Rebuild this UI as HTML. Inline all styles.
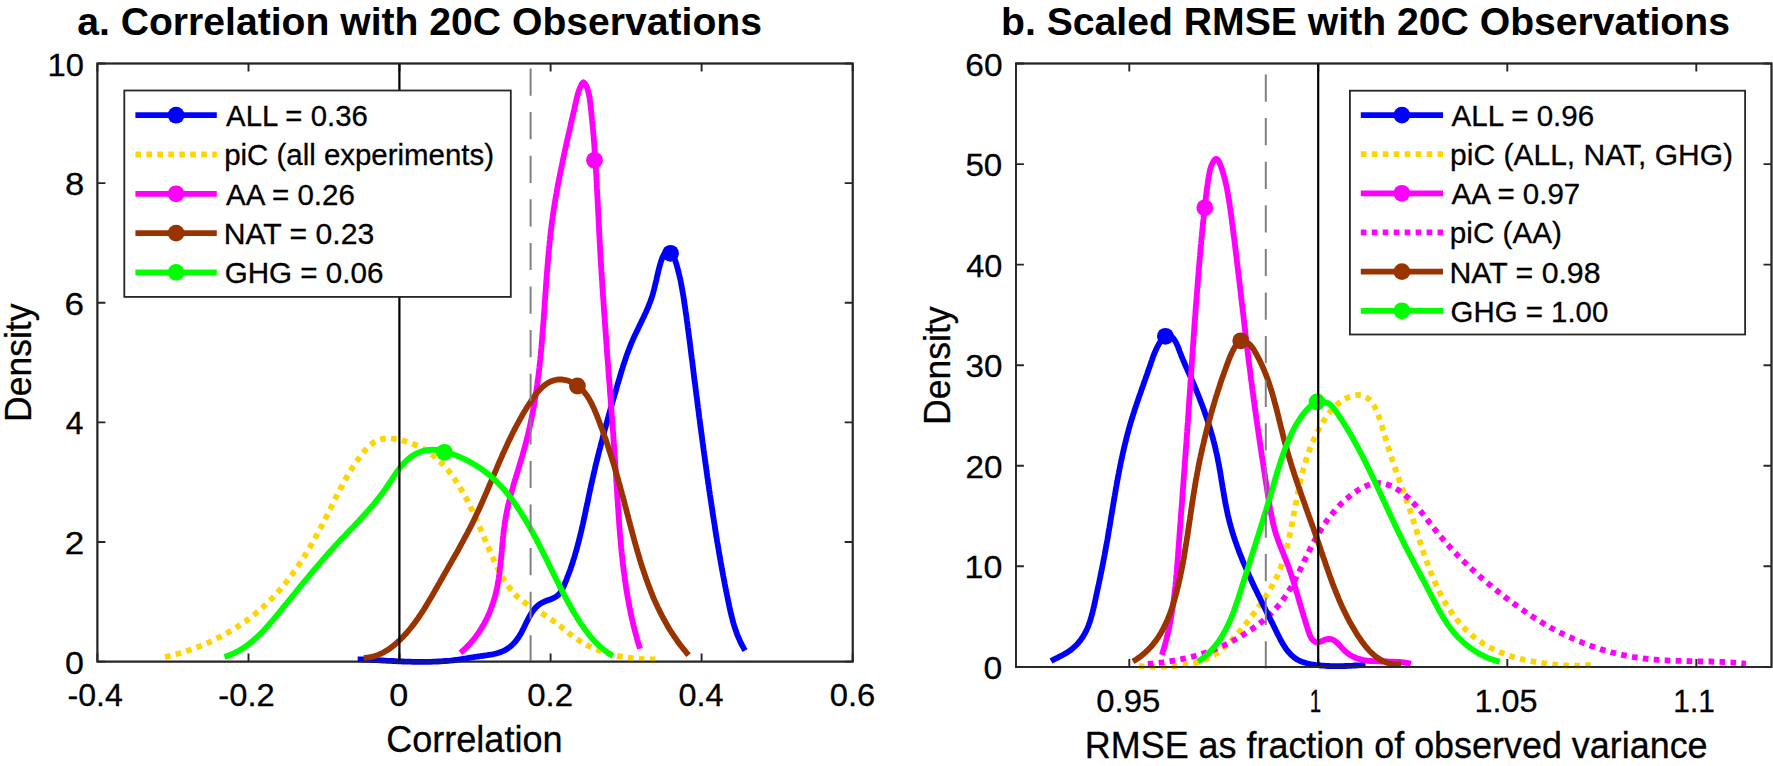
<!DOCTYPE html>
<html><head><meta charset="utf-8"><title>Correlation and Scaled RMSE with 20C Observations</title>
<style>html,body{margin:0;padding:0;background:#fff}svg{display:block}text{font-family:"Liberation Sans",Arial,Helvetica,sans-serif;fill:#000}.tk{font-size:31.5px;fill:#000;stroke:#000;stroke-width:.3px}.lb{font-size:37.0px;fill:#000;stroke:#000;stroke-width:.3px}.tt{font-size:39.3px;font-weight:bold;fill:#000}.lg{font-size:30.2px;fill:#000;stroke:#000;stroke-width:.3px}</style></head><body>
<svg width="1773" height="766" viewBox="0 0 1773 766">
<rect width="1773" height="766" fill="#fff"/>
<rect x="97.4" y="63.5" width="755.3" height="598.1" fill="#fff" stroke="#262626" stroke-width="1.8"/>
<path d="M97.4 661.6 v-8 M97.4 63.5 v8 M248.5 661.6 v-8 M248.5 63.5 v8 M399.5 661.6 v-8 M399.5 63.5 v8 M550.6 661.6 v-8 M550.6 63.5 v8 M701.6 661.6 v-8 M701.6 63.5 v8 M852.7 661.6 v-8 M852.7 63.5 v8 M97.4 661.6 h8 M852.7 661.6 h-8 M97.4 542.0 h8 M852.7 542.0 h-8 M97.4 422.4 h8 M852.7 422.4 h-8 M97.4 302.7 h8 M852.7 302.7 h-8 M97.4 183.1 h8 M852.7 183.1 h-8 M97.4 63.5 h8 M852.7 63.5 h-8 " stroke="#262626" stroke-width="1.9" fill="none"/>
<path d="M165.1 657.1L167.5 656.5L170.0 655.9L172.4 655.3L174.8 654.7L177.2 654.0L179.6 653.3L182.0 652.6L184.4 651.9L186.7 651.1L189.1 650.3L191.5 649.5L193.8 648.6L196.2 647.7L198.5 646.8L200.9 645.9L203.2 644.9L205.5 643.9L207.8 642.9L210.1 641.8L212.4 640.8L214.7 639.7L216.9 638.5L219.2 637.4L221.4 636.2L223.6 635.0L225.8 633.8L228.0 632.5L230.2 631.2L232.4 629.9L234.5 628.6L236.7 627.2L238.8 625.8L240.9 624.4L242.9 623.0L245.0 621.6L247.0 620.1L249.1 618.6L251.1 617.0L253.1 615.5L255.0 613.9L257.0 612.3L258.9 610.7L260.8 609.1L262.7 607.4L264.5 605.7L266.4 604.0L268.2 602.3L270.0 600.5L271.7 598.7L273.5 596.9L275.2 595.1L276.9 593.3L278.5 591.4L280.2 589.5L281.8 587.6L283.4 585.7L285.0 583.8L286.5 581.8L288.1 579.9L289.6 577.9L291.1 575.9L292.6 573.9L294.0 571.8L295.5 569.8L296.9 567.7L298.3 565.6L299.7 563.5L301.1 561.4L302.4 559.3L303.8 557.2L305.1 555.1L306.4 552.9L307.7 550.8L309.0 548.6L310.3 546.4L311.6 544.2L312.8 542.0L314.1 539.8L315.3 537.6L316.5 535.4L317.7 533.2L318.9 531.0L320.1 528.7L321.3 526.5L322.5 524.3L323.6 522.0L324.8 519.8L325.9 517.5L327.1 515.3L328.2 513.0L329.3 510.8L330.5 508.5L331.6 506.2L332.7 504.0L333.8 501.7L334.9 499.5L336.1 497.2L337.2 495.0L338.3 492.8L339.5 490.5L340.6 488.3L341.8 486.1L343.0 483.9L344.2 481.7L345.4 479.5L346.6 477.3L347.9 475.1L349.1 472.9L350.4 470.8L351.8 468.6L353.1 466.5L354.5 464.4L355.9 462.3L357.4 460.2L358.8 458.2L360.4 456.1L361.9 454.1L363.5 452.1L365.2 450.1L366.9 448.3L368.6 446.5L370.5 444.9L372.4 443.4L374.4 442.0L376.4 440.9L378.6 440.0L380.9 439.3L383.2 438.8L385.6 438.5L388.1 438.4L390.6 438.5L393.1 438.7L395.7 439.1L398.3 439.6L400.8 440.1L403.4 440.8L405.9 441.5L408.4 442.2L410.8 443.1L413.2 444.0L415.6 445.0L417.9 446.0L420.2 447.1L422.4 448.3L424.6 449.6L426.7 450.9L428.8 452.3L430.9 453.7L432.8 455.2L434.8 456.8L436.7 458.4L438.5 460.1L440.3 461.8L442.1 463.6L443.8 465.4L445.4 467.2L447.1 469.1L448.7 471.0L450.2 473.0L451.7 475.0L453.2 477.0L454.7 479.1L456.1 481.2L457.4 483.3L458.8 485.4L460.1 487.6L461.4 489.7L462.7 491.9L463.9 494.1L465.1 496.3L466.3 498.5L467.4 500.7L468.6 503.0L469.7 505.2L470.8 507.5L471.9 509.8L472.9 512.0L474.0 514.3L475.0 516.6L476.0 518.9L477.1 521.2L478.1 523.5L479.1 525.8L480.1 528.1L481.0 530.5L482.0 532.8L483.0 535.1L484.0 537.4L485.0 539.7L486.0 542.1L486.9 544.4L487.9 546.7L488.9 549.0L489.9 551.3L491.0 553.6L492.0 555.9L493.0 558.2L494.1 560.5L495.2 562.8L496.2 565.1L497.3 567.4L498.5 569.6L499.6 571.9L500.8 574.1L502.0 576.3L503.3 578.5L504.6 580.6L505.9 582.8L507.3 584.8L508.7 586.9L510.2 588.8L511.7 590.8L513.3 592.6L515.0 594.5L516.8 596.2L518.6 597.9L520.5 599.5L522.5 601.0L524.5 602.5L526.6 603.9L528.8 605.3L530.9 606.7L533.1 608.0L535.3 609.3L537.5 610.6L539.7 612.0L541.9 613.3L544.0 614.6L546.1 616.0L548.2 617.4L550.3 618.8L552.4 620.2L554.4 621.7L556.4 623.2L558.4 624.8L560.4 626.3L562.3 627.9L564.3 629.5L566.2 631.1L568.2 632.7L570.2 634.3L572.2 635.8L574.2 637.3L576.3 638.7L578.3 640.1L580.5 641.4L582.6 642.7L584.8 643.9L587.0 645.1L589.3 646.2L591.5 647.3L593.8 648.3L596.1 649.2L598.4 650.2L600.8 651.0L603.2 651.9L605.6 652.6L608.0 653.4L610.4 654.1L612.8 654.7L615.3 655.3L617.7 655.9L620.2 656.4L622.7 656.8L625.2 657.3L627.7 657.7L630.2 658.0L632.7 658.3L635.2 658.6L637.7 658.8L640.2 659.0L642.8 659.2L645.3 659.3L647.8 659.4L650.3 659.4L652.8 659.4L655.3 659.4L657.8 659.4" fill="none" stroke="#ffd400" stroke-width="5.8" stroke-linejoin="round" stroke-dasharray="5.6 5.37"/>
<path d="M357.7 659.4L360.2 659.4L362.7 659.5L365.2 659.6L367.7 659.7L370.2 659.9L372.7 660.0L375.2 660.1L377.7 660.2L380.2 660.4L382.7 660.5L385.2 660.6L387.7 660.8L390.2 660.9L392.7 661.0L395.3 661.1L397.8 661.3L400.3 661.4L402.8 661.5L405.3 661.6L407.9 661.7L410.4 661.7L412.9 661.8L415.4 661.8L417.9 661.9L420.5 661.9L423.0 661.9L425.5 661.9L428.0 661.9L430.5 661.8L433.0 661.7L435.5 661.6L438.0 661.5L440.5 661.4L443.0 661.2L445.5 661.0L448.0 660.8L450.4 660.6L452.9 660.3L455.4 660.0L457.8 659.7L460.3 659.3L462.8 658.9L465.2 658.5L467.7 658.1L470.1 657.7L472.6 657.3L475.1 656.9L477.6 656.5L480.1 656.2L482.7 655.8L485.2 655.5L487.8 655.1L490.3 654.7L492.8 654.3L495.3 653.7L497.7 653.1L500.1 652.3L502.4 651.4L504.6 650.4L506.8 649.1L508.8 647.7L510.8 646.2L512.6 644.5L514.4 642.7L516.0 640.8L517.5 638.8L518.9 636.7L520.2 634.6L521.5 632.4L522.6 630.1L523.8 627.8L524.9 625.5L526.0 623.2L527.1 620.9L528.3 618.7L529.5 616.5L530.7 614.3L532.1 612.2L533.5 610.2L535.1 608.3L536.8 606.5L538.6 604.9L540.7 603.5L542.9 602.3L545.3 601.2L547.7 600.3L550.2 599.4L552.6 598.5L554.8 597.4L556.9 596.1L558.7 594.6L560.3 592.7L561.6 590.6L562.7 588.4L563.8 586.1L564.8 583.7L565.8 581.4L566.7 579.0L567.6 576.6L568.5 574.3L569.4 571.9L570.3 569.5L571.1 567.1L571.9 564.8L572.7 562.4L573.4 560.0L574.2 557.6L574.9 555.2L575.6 552.8L576.3 550.4L577.0 547.9L577.6 545.5L578.3 543.1L578.9 540.7L579.5 538.2L580.1 535.8L580.7 533.4L581.3 530.9L581.8 528.5L582.4 526.1L583.0 523.6L583.5 521.2L584.0 518.7L584.6 516.3L585.1 513.8L585.6 511.4L586.1 508.9L586.6 506.5L587.2 504.0L587.7 501.6L588.2 499.1L588.7 496.7L589.2 494.2L589.7 491.8L590.3 489.3L590.8 486.9L591.3 484.4L591.9 482.0L592.4 479.5L593.0 477.1L593.5 474.6L594.1 472.2L594.7 469.7L595.2 467.3L595.8 464.8L596.4 462.4L597.0 460.0L597.6 457.5L598.2 455.1L598.8 452.6L599.4 450.2L600.1 447.8L600.7 445.3L601.3 442.9L602.0 440.5L602.6 438.0L603.2 435.6L603.9 433.2L604.5 430.7L605.2 428.3L605.9 425.9L606.5 423.5L607.2 421.0L607.9 418.6L608.5 416.2L609.2 413.8L609.9 411.4L610.6 408.9L611.3 406.5L611.9 404.1L612.6 401.7L613.3 399.3L614.0 396.9L614.7 394.5L615.4 392.1L616.1 389.7L616.8 387.3L617.5 384.8L618.2 382.4L618.9 380.1L619.6 377.7L620.3 375.3L621.0 372.9L621.7 370.5L622.5 368.1L623.2 365.7L624.0 363.3L624.8 361.0L625.6 358.6L626.4 356.2L627.2 353.9L628.1 351.5L629.0 349.2L629.9 346.9L630.8 344.5L631.8 342.2L632.8 339.9L633.8 337.6L634.9 335.3L636.0 333.0L637.1 330.7L638.2 328.4L639.3 326.1L640.4 323.9L641.5 321.6L642.6 319.3L643.7 317.0L644.7 314.7L645.8 312.5L646.8 310.2L647.8 307.9L648.7 305.6L649.6 303.3L650.5 301.0L651.3 298.7L652.1 296.4L652.8 294.0L653.4 291.7L654.1 289.3L654.7 287.0L655.2 284.6L655.8 282.2L656.4 279.7L656.9 277.3L657.5 274.8L658.1 272.3L658.7 269.7L659.4 267.1L660.1 264.5L660.9 261.8L661.8 259.2L662.8 256.7L663.9 254.4L665.3 252.5L666.9 251.1L668.8 250.3L670.6 250.5L672.0 251.8L673.0 254.1L673.9 256.5L674.7 258.9L675.5 261.4L676.3 263.8L677.0 266.2L677.7 268.7L678.3 271.2L678.9 273.6L679.5 276.1L680.1 278.5L680.6 281.0L681.1 283.5L681.5 285.9L682.0 288.4L682.4 290.9L682.9 293.4L683.3 295.8L683.7 298.3L684.1 300.8L684.4 303.3L684.8 305.8L685.2 308.2L685.5 310.7L685.9 313.2L686.3 315.7L686.6 318.2L686.9 320.6L687.3 323.1L687.6 325.6L687.9 328.1L688.3 330.6L688.6 333.1L688.9 335.5L689.2 338.0L689.6 340.5L689.9 343.0L690.2 345.5L690.5 348.0L690.8 350.5L691.1 352.9L691.4 355.4L691.7 357.9L692.1 360.4L692.4 362.9L692.7 365.4L693.0 367.9L693.3 370.3L693.6 372.8L693.9 375.3L694.2 377.8L694.5 380.3L694.9 382.8L695.2 385.3L695.5 387.7L695.8 390.2L696.1 392.7L696.4 395.2L696.8 397.7L697.1 400.2L697.4 402.7L697.7 405.2L698.0 407.6L698.4 410.1L698.7 412.6L699.0 415.1L699.3 417.6L699.7 420.1L700.0 422.6L700.3 425.0L700.6 427.5L701.0 430.0L701.3 432.5L701.6 435.0L702.0 437.5L702.3 440.0L702.6 442.4L703.0 444.9L703.3 447.4L703.6 449.9L704.0 452.4L704.3 454.9L704.7 457.4L705.0 459.8L705.3 462.3L705.7 464.8L706.0 467.3L706.4 469.8L706.7 472.3L707.1 474.8L707.4 477.2L707.8 479.7L708.1 482.2L708.5 484.7L708.9 487.2L709.2 489.6L709.6 492.1L709.9 494.6L710.3 497.1L710.7 499.6L711.1 502.1L711.4 504.5L711.8 507.0L712.2 509.5L712.5 512.0L712.9 514.5L713.3 516.9L713.7 519.4L714.1 521.9L714.5 524.4L714.9 526.9L715.2 529.3L715.6 531.8L716.0 534.3L716.4 536.8L716.8 539.2L717.2 541.7L717.7 544.2L718.1 546.7L718.5 549.1L718.9 551.6L719.3 554.1L719.8 556.6L720.2 559.0L720.6 561.5L721.1 564.0L721.5 566.4L721.9 568.9L722.4 571.4L722.9 573.9L723.3 576.3L723.8 578.8L724.3 581.3L724.7 583.7L725.2 586.2L725.7 588.7L726.2 591.1L726.7 593.6L727.2 596.0L727.7 598.5L728.2 601.0L728.7 603.4L729.2 605.9L729.8 608.4L730.3 610.8L730.9 613.3L731.5 615.7L732.1 618.1L732.7 620.6L733.4 623.0L734.1 625.4L734.9 627.8L735.6 630.1L736.5 632.5L737.3 634.8L738.3 637.1L739.3 639.4L740.3 641.7L741.4 644.0L742.6 646.2L743.8 648.4L745.1 650.6" fill="none" stroke="#0000ff" stroke-width="5.8" stroke-linejoin="round"/>
<path d="M460.5 652.8L462.4 651.1L464.3 649.4L466.2 647.6L467.9 645.8L469.7 644.0L471.3 642.1L473.0 640.2L474.5 638.2L476.1 636.2L477.5 634.2L479.0 632.1L480.3 630.0L481.7 627.9L482.9 625.7L484.2 623.6L485.3 621.3L486.5 619.1L487.5 616.9L488.6 614.6L489.6 612.3L490.5 610.0L491.4 607.6L492.2 605.3L493.0 602.9L493.8 600.5L494.5 598.1L495.2 595.7L495.8 593.3L496.3 590.9L496.9 588.4L497.4 586.0L497.8 583.5L498.3 581.1L498.7 578.6L499.0 576.1L499.4 573.6L499.7 571.2L500.0 568.7L500.3 566.2L500.6 563.7L500.8 561.2L501.1 558.7L501.3 556.2L501.5 553.6L501.8 551.1L502.0 548.6L502.2 546.1L502.4 543.6L502.7 541.1L502.9 538.6L503.2 536.1L503.4 533.6L503.7 531.1L504.0 528.6L504.4 526.1L504.7 523.6L505.1 521.2L505.5 518.7L505.9 516.2L506.4 513.8L506.9 511.3L507.4 508.9L507.9 506.4L508.5 504.0L509.1 501.6L509.7 499.1L510.3 496.7L510.9 494.3L511.6 491.9L512.3 489.5L512.9 487.1L513.6 484.7L514.3 482.3L515.0 479.9L515.8 477.5L516.5 475.1L517.2 472.7L517.9 470.3L518.7 467.9L519.4 465.5L520.1 463.1L520.8 460.7L521.5 458.3L522.3 455.8L523.0 453.4L523.6 451.0L524.3 448.6L525.0 446.2L525.6 443.8L526.3 441.4L526.9 438.9L527.5 436.5L528.1 434.1L528.6 431.6L529.2 429.2L529.8 426.8L530.3 424.3L530.8 421.9L531.3 419.4L531.8 417.0L532.3 414.5L532.8 412.1L533.2 409.6L533.7 407.1L534.1 404.7L534.5 402.2L534.9 399.7L535.3 397.3L535.7 394.8L536.1 392.3L536.5 389.8L536.8 387.4L537.2 384.9L537.5 382.4L537.8 379.9L538.2 377.4L538.5 375.0L538.8 372.5L539.1 370.0L539.4 367.5L539.6 365.0L539.9 362.5L540.2 360.0L540.4 357.5L540.7 355.0L540.9 352.5L541.1 350.0L541.4 347.5L541.6 345.1L541.8 342.6L542.0 340.1L542.2 337.6L542.4 335.1L542.6 332.6L542.8 330.1L543.0 327.6L543.2 325.1L543.4 322.6L543.6 320.1L543.8 317.6L543.9 315.1L544.1 312.5L544.3 310.0L544.5 307.5L544.6 305.0L544.8 302.5L545.0 300.0L545.2 297.5L545.3 295.0L545.5 292.5L545.7 290.0L545.9 287.5L546.0 285.0L546.2 282.5L546.4 280.0L546.6 277.5L546.8 275.0L547.0 272.5L547.2 270.0L547.4 267.5L547.6 265.0L547.8 262.5L548.0 260.0L548.2 257.5L548.4 255.0L548.6 252.5L548.9 250.1L549.1 247.6L549.4 245.1L549.6 242.6L549.9 240.1L550.1 237.6L550.4 235.1L550.7 232.6L551.0 230.1L551.3 227.7L551.6 225.2L551.9 222.7L552.2 220.2L552.6 217.7L552.9 215.3L553.3 212.8L553.6 210.3L554.0 207.8L554.4 205.4L554.8 202.9L555.2 200.4L555.6 198.0L556.0 195.5L556.5 193.0L556.9 190.6L557.3 188.1L557.8 185.6L558.3 183.2L558.7 180.7L559.2 178.3L559.7 175.8L560.2 173.3L560.7 170.9L561.2 168.4L561.7 166.0L562.2 163.5L562.7 161.1L563.2 158.6L563.7 156.2L564.3 153.7L564.8 151.2L565.3 148.8L565.9 146.3L566.4 143.9L566.9 141.4L567.5 139.0L568.0 136.5L568.6 134.1L569.2 131.6L569.7 129.2L570.3 126.7L570.8 124.3L571.4 121.8L571.9 119.4L572.5 116.9L573.1 114.5L573.6 112.0L574.2 109.6L574.7 107.1L575.3 104.6L575.9 102.2L576.4 99.7L577.0 97.3L577.6 94.9L578.3 92.5L579.1 90.1L580.0 87.8L581.0 85.6L582.1 83.4L583.4 82.3L584.8 83.3L586.1 85.5L587.2 88.1L588.0 90.7L588.7 93.3L589.2 95.9L589.7 98.4L590.0 100.9L590.3 103.3L590.6 105.8L590.9 108.3L591.1 110.7L591.4 113.2L591.6 115.7L591.9 118.2L592.1 120.6L592.4 123.1L592.6 125.6L592.8 128.1L593.1 130.6L593.3 133.0L593.5 135.5L593.7 138.0L593.9 140.5L594.1 143.0L594.3 145.5L594.5 148.0L594.6 150.5L594.8 153.0L595.0 155.4L595.2 157.9L595.3 160.4L595.5 162.9L595.6 165.4L595.8 167.9L596.0 170.4L596.1 172.9L596.3 175.4L596.4 177.9L596.5 180.4L596.7 182.9L596.8 185.4L596.9 187.9L597.1 190.4L597.2 192.9L597.3 195.5L597.5 198.0L597.6 200.5L597.7 203.0L597.9 205.5L598.0 208.0L598.1 210.5L598.2 213.0L598.4 215.5L598.5 218.0L598.6 220.5L598.7 223.0L598.9 225.5L599.0 228.0L599.1 230.5L599.2 233.1L599.4 235.6L599.5 238.1L599.6 240.6L599.8 243.1L599.9 245.6L600.1 248.1L600.2 250.6L600.3 253.1L600.5 255.6L600.6 258.1L600.8 260.6L600.9 263.1L601.1 265.6L601.2 268.1L601.4 270.6L601.5 273.1L601.7 275.6L601.9 278.1L602.0 280.6L602.2 283.1L602.3 285.6L602.5 288.1L602.7 290.6L602.8 293.1L603.0 295.6L603.2 298.1L603.4 300.6L603.5 303.1L603.7 305.6L603.9 308.1L604.0 310.6L604.2 313.1L604.4 315.6L604.6 318.1L604.8 320.6L604.9 323.1L605.1 325.6L605.3 328.1L605.5 330.6L605.7 333.1L605.8 335.6L606.0 338.1L606.2 340.6L606.4 343.1L606.6 345.6L606.8 348.1L606.9 350.6L607.1 353.1L607.3 355.6L607.5 358.1L607.7 360.6L607.9 363.0L608.1 365.5L608.3 368.0L608.4 370.5L608.6 373.0L608.8 375.5L609.0 378.0L609.2 380.5L609.4 383.0L609.6 385.5L609.8 388.0L609.9 390.5L610.1 393.0L610.3 395.5L610.5 398.0L610.7 400.5L610.9 403.0L611.1 405.5L611.3 408.0L611.4 410.5L611.6 413.0L611.8 415.5L612.0 418.0L612.2 420.5L612.4 423.0L612.5 425.5L612.7 428.0L612.9 430.5L613.1 433.0L613.3 435.5L613.4 438.0L613.6 440.5L613.8 443.0L614.0 445.5L614.1 448.0L614.3 450.5L614.5 453.0L614.7 455.5L614.8 458.0L615.0 460.5L615.2 463.0L615.3 465.5L615.5 468.0L615.7 470.5L615.8 473.0L616.0 475.5L616.2 478.0L616.3 480.5L616.5 483.0L616.6 485.5L616.8 488.0L617.0 490.5L617.1 493.0L617.3 495.5L617.4 498.0L617.6 500.5L617.8 503.0L617.9 505.5L618.1 508.0L618.3 510.5L618.4 513.0L618.6 515.5L618.8 518.0L619.0 520.5L619.1 523.0L619.3 525.5L619.5 528.0L619.7 530.5L619.9 533.0L620.1 535.5L620.3 538.0L620.6 540.5L620.8 543.0L621.0 545.5L621.2 548.0L621.5 550.5L621.7 553.0L622.0 555.4L622.3 557.9L622.5 560.4L622.8 562.9L623.1 565.4L623.4 567.9L623.7 570.4L624.0 572.8L624.4 575.3L624.7 577.8L625.0 580.3L625.4 582.7L625.8 585.2L626.1 587.7L626.5 590.2L626.9 592.6L627.3 595.1L627.8 597.6L628.2 600.0L628.7 602.5L629.1 604.9L629.6 607.4L630.1 609.9L630.6 612.3L631.1 614.8L631.6 617.2L632.2 619.7L632.8 622.1L633.3 624.6L633.9 627.0L634.5 629.4L635.2 631.9L635.8 634.3L636.5 636.7L637.1 639.2L637.8 641.6L638.5 644.0L639.3 646.4L640.0 648.8" fill="none" stroke="#ff00ff" stroke-width="5.8" stroke-linejoin="round"/>
<path d="M363.7 657.8L366.3 657.7L368.9 657.4L371.5 656.9L374.0 656.3L376.4 655.6L378.7 654.7L381.0 653.7L383.3 652.5L385.4 651.3L387.6 650.0L389.7 648.6L391.7 647.1L393.7 645.5L395.6 643.9L397.5 642.2L399.3 640.5L401.1 638.7L402.9 636.9L404.6 635.1L406.3 633.2L407.9 631.4L409.5 629.5L411.1 627.5L412.6 625.6L414.2 623.6L415.6 621.6L417.1 619.6L418.5 617.5L419.9 615.5L421.3 613.4L422.7 611.3L424.0 609.2L425.3 607.1L426.6 604.9L427.9 602.8L429.2 600.6L430.5 598.5L431.8 596.3L433.0 594.1L434.3 591.9L435.5 589.7L436.8 587.5L438.0 585.3L439.3 583.2L440.5 581.0L441.8 578.8L443.0 576.6L444.3 574.4L445.5 572.2L446.8 570.0L448.0 567.8L449.3 565.6L450.5 563.4L451.8 561.2L453.0 559.0L454.3 556.9L455.5 554.7L456.8 552.5L458.0 550.3L459.2 548.1L460.4 545.8L461.6 543.6L462.9 541.4L464.0 539.2L465.2 537.0L466.4 534.8L467.6 532.6L468.7 530.3L469.9 528.1L471.0 525.9L472.2 523.6L473.3 521.4L474.4 519.1L475.4 516.9L476.5 514.6L477.6 512.3L478.6 510.1L479.7 507.8L480.7 505.5L481.7 503.3L482.7 501.0L483.7 498.7L484.7 496.4L485.7 494.1L486.7 491.8L487.7 489.5L488.7 487.2L489.6 484.9L490.6 482.6L491.6 480.3L492.6 478.0L493.5 475.7L494.5 473.4L495.5 471.1L496.5 468.8L497.4 466.5L498.4 464.2L499.4 461.9L500.4 459.6L501.4 457.3L502.4 455.0L503.4 452.7L504.5 450.5L505.5 448.2L506.6 445.9L507.6 443.6L508.7 441.3L509.8 439.1L510.9 436.8L512.0 434.5L513.1 432.3L514.2 430.0L515.4 427.8L516.6 425.5L517.8 423.3L519.0 421.1L520.2 418.9L521.5 416.6L522.7 414.4L524.0 412.2L525.4 410.0L526.7 407.8L528.1 405.7L529.5 403.5L530.9 401.3L532.3 399.2L533.8 397.1L535.3 395.0L536.9 393.0L538.5 391.0L540.2 389.2L542.0 387.5L543.8 385.8L545.7 384.4L547.7 383.1L549.8 381.9L552.0 381.0L554.3 380.3L556.7 379.7L559.1 379.5L561.6 379.5L564.1 379.8L566.6 380.3L569.0 381.1L571.4 382.1L573.7 383.3L575.8 384.6L577.9 386.1L579.8 387.7L581.7 389.4L583.4 391.2L585.0 393.1L586.5 395.0L587.9 397.1L589.2 399.2L590.4 401.4L591.6 403.6L592.7 405.9L593.8 408.2L594.8 410.6L595.8 412.9L596.8 415.3L597.7 417.7L598.6 420.1L599.5 422.5L600.4 424.9L601.3 427.2L602.2 429.6L603.1 432.0L603.9 434.4L604.7 436.7L605.6 439.1L606.4 441.5L607.2 443.9L608.0 446.2L608.7 448.6L609.5 451.0L610.3 453.4L611.0 455.7L611.8 458.1L612.5 460.5L613.3 462.9L614.0 465.3L614.7 467.6L615.4 470.0L616.1 472.4L616.8 474.8L617.5 477.2L618.2 479.6L618.8 482.0L619.5 484.4L620.2 486.8L620.8 489.2L621.5 491.6L622.1 494.0L622.8 496.5L623.4 498.9L624.1 501.3L624.7 503.7L625.3 506.2L626.0 508.6L626.6 511.0L627.2 513.5L627.9 515.9L628.5 518.4L629.1 520.8L629.8 523.3L630.4 525.7L631.1 528.1L631.7 530.6L632.4 533.0L633.0 535.5L633.7 537.9L634.3 540.3L635.0 542.8L635.7 545.2L636.4 547.7L637.1 550.1L637.8 552.5L638.5 554.9L639.2 557.3L639.9 559.8L640.7 562.2L641.4 564.6L642.2 567.0L643.0 569.4L643.8 571.8L644.6 574.1L645.4 576.5L646.2 578.9L647.1 581.2L647.9 583.6L648.8 585.9L649.7 588.3L650.6 590.6L651.5 592.9L652.5 595.3L653.4 597.6L654.4 599.9L655.4 602.1L656.5 604.4L657.5 606.7L658.6 608.9L659.7 611.2L660.8 613.4L661.9 615.6L663.1 617.8L664.3 620.0L665.5 622.2L666.7 624.4L667.9 626.5L669.2 628.7L670.5 630.8L671.9 632.9L673.3 635.0L674.6 637.1L676.1 639.1L677.5 641.2L679.0 643.2L680.5 645.3L682.1 647.3L683.6 649.2L685.3 651.2L686.9 653.2L688.6 655.1" fill="none" stroke="#993300" stroke-width="5.8" stroke-linejoin="round"/>
<path d="M224.5 657.0L227.0 656.1L229.5 655.1L231.9 654.1L234.2 653.1L236.5 651.9L238.7 650.7L240.9 649.4L243.0 648.1L245.1 646.7L247.1 645.3L249.1 643.8L251.0 642.3L252.9 640.7L254.8 639.0L256.6 637.4L258.5 635.7L260.2 634.0L262.0 632.2L263.7 630.4L265.4 628.6L267.1 626.7L268.8 624.8L270.4 622.9L272.1 621.0L273.7 619.1L275.3 617.2L276.9 615.2L278.5 613.3L280.1 611.3L281.7 609.4L283.3 607.4L284.9 605.4L286.5 603.5L288.1 601.5L289.7 599.5L291.3 597.6L292.9 595.6L294.4 593.7L296.0 591.7L297.6 589.7L299.2 587.8L300.8 585.8L302.4 583.9L304.0 581.9L305.7 580.0L307.3 578.0L308.9 576.1L310.5 574.2L312.1 572.2L313.7 570.3L315.4 568.4L317.0 566.5L318.6 564.6L320.3 562.7L321.9 560.8L323.5 558.9L325.2 557.0L326.9 555.1L328.5 553.2L330.2 551.3L331.9 549.5L333.5 547.6L335.2 545.8L336.9 544.0L338.6 542.1L340.3 540.3L342.0 538.5L343.8 536.7L345.5 534.9L347.2 533.1L348.9 531.3L350.6 529.5L352.4 527.7L354.1 525.9L355.8 524.0L357.5 522.2L359.2 520.4L360.9 518.6L362.6 516.7L364.3 514.9L366.0 513.0L367.7 511.2L369.3 509.3L371.0 507.4L372.6 505.5L374.2 503.6L375.8 501.6L377.4 499.6L379.0 497.6L380.5 495.6L382.1 493.6L383.6 491.5L385.1 489.4L386.5 487.3L388.0 485.2L389.4 483.0L390.9 480.9L392.3 478.7L393.7 476.5L395.1 474.4L396.6 472.3L398.1 470.2L399.6 468.2L401.2 466.2L402.8 464.3L404.5 462.5L406.3 460.7L408.1 459.1L410.0 457.6L412.0 456.1L414.0 454.8L416.2 453.7L418.4 452.7L420.7 451.8L423.0 451.0L425.3 450.5L427.7 450.0L430.2 449.8L432.6 449.7L435.0 449.8L437.5 450.0L440.0 450.4L442.4 450.9L444.9 451.5L447.4 452.2L449.8 453.0L452.3 453.9L454.7 454.9L457.1 455.8L459.4 456.9L461.8 457.9L464.1 459.0L466.4 460.1L468.7 461.3L470.9 462.5L473.1 463.8L475.3 465.0L477.4 466.4L479.6 467.7L481.6 469.1L483.7 470.6L485.7 472.1L487.6 473.6L489.6 475.2L491.4 476.8L493.3 478.5L495.1 480.2L496.9 481.9L498.6 483.7L500.4 485.5L502.1 487.4L503.7 489.2L505.3 491.1L506.9 493.0L508.5 495.0L510.0 497.0L511.6 499.0L513.1 501.0L514.5 503.0L516.0 505.1L517.4 507.2L518.8 509.3L520.2 511.4L521.5 513.5L522.8 515.7L524.2 517.8L525.5 520.0L526.7 522.1L528.0 524.3L529.3 526.5L530.5 528.7L531.7 530.9L532.9 533.1L534.1 535.3L535.3 537.5L536.5 539.7L537.6 542.0L538.8 544.2L539.9 546.4L541.1 548.7L542.2 550.9L543.3 553.1L544.4 555.4L545.6 557.6L546.7 559.9L547.8 562.1L548.9 564.4L550.0 566.6L551.1 568.9L552.2 571.2L553.3 573.4L554.4 575.7L555.6 577.9L556.7 580.2L557.8 582.4L558.9 584.6L560.1 586.9L561.2 589.1L562.4 591.4L563.5 593.6L564.7 595.8L565.9 598.0L567.1 600.3L568.3 602.5L569.5 604.7L570.7 606.9L572.0 609.1L573.2 611.2L574.5 613.4L575.8 615.6L577.1 617.7L578.5 619.9L579.8 622.0L581.2 624.1L582.7 626.2L584.1 628.3L585.6 630.3L587.1 632.3L588.6 634.3L590.2 636.2L591.8 638.1L593.5 640.0L595.2 641.8L597.0 643.6L598.8 645.3L600.6 647.0L602.5 648.6L604.5 650.2L606.5 651.7L608.5 653.2L610.7 654.6L612.9 655.9" fill="none" stroke="#00ff00" stroke-width="5.8" stroke-linejoin="round"/>
<circle cx="670.5" cy="253.3" r="8.4" fill="#0000ff"/>
<circle cx="594.5" cy="160.3" r="8.4" fill="#ff00ff"/>
<circle cx="577.4" cy="386.0" r="8.4" fill="#993300"/>
<circle cx="444.4" cy="452.3" r="8.4" fill="#00ff00"/>
<path d="M530.6 662.5 V63.5" stroke="#808080" stroke-width="2" stroke-dasharray="27.2 16.4" fill="none"/>
<path d="M399.4 661.6 V63.5" stroke="#000" stroke-width="2.2" fill="none"/>
<rect x="97.4" y="63.5" width="755.3" height="598.1" fill="none" stroke="#262626" stroke-width="1.8"/>
<rect x="124.3" y="90.5" width="386.5" height="206.4" fill="#fff" stroke="#262626" stroke-width="1.8"/>
<path d="M135.4 115.2 H216.8" stroke="#0000ff" stroke-width="5.8" fill="none"/>
<circle cx="176.1" cy="115.2" r="8.4" fill="#0000ff"/>
<path d="M135.4 154.5 H216.8" stroke="#ffd400" stroke-width="5.8" fill="none" stroke-dasharray="5.6 5.37"/>
<path d="M135.4 193.8 H216.8" stroke="#ff00ff" stroke-width="5.8" fill="none"/>
<circle cx="176.1" cy="193.8" r="8.4" fill="#ff00ff"/>
<path d="M135.4 233.1 H216.8" stroke="#993300" stroke-width="5.8" fill="none"/>
<circle cx="176.1" cy="233.1" r="8.4" fill="#993300"/>
<path d="M135.4 272.4 H216.8" stroke="#00ff00" stroke-width="5.8" fill="none"/>
<circle cx="176.1" cy="272.4" r="8.4" fill="#00ff00"/>
<rect x="1015.9" y="63.5" width="755.6" height="603.4" fill="#fff" stroke="#262626" stroke-width="1.8"/>
<path d="M1129.3 666.9 v-8 M1129.3 63.5 v8 M1318.3 666.9 v-8 M1318.3 63.5 v8 M1507.3 666.9 v-8 M1507.3 63.5 v8 M1696.3 666.9 v-8 M1696.3 63.5 v8 M1015.9 666.9 h8 M1771.5 666.9 h-8 M1015.9 566.3 h8 M1771.5 566.3 h-8 M1015.9 465.8 h8 M1771.5 465.8 h-8 M1015.9 365.2 h8 M1771.5 365.2 h-8 M1015.9 264.6 h8 M1771.5 264.6 h-8 M1015.9 164.1 h8 M1771.5 164.1 h-8 M1015.9 63.5 h8 M1771.5 63.5 h-8 " stroke="#262626" stroke-width="1.9" fill="none"/>
<path d="M1138.9 665.8L1141.5 666.1L1144.0 666.3L1146.5 666.4L1149.0 666.6L1151.5 666.7L1154.0 666.7L1156.5 666.8L1159.0 666.8L1161.4 666.7L1163.9 666.7L1166.4 666.6L1168.9 666.4L1171.4 666.3L1173.9 666.1L1176.4 665.9L1178.9 665.6L1181.5 665.3L1184.0 665.0L1186.6 664.7L1189.2 664.3L1191.7 663.9L1194.2 663.4L1196.7 662.8L1199.1 662.1L1201.5 661.3L1203.8 660.4L1206.1 659.4L1208.3 658.3L1210.5 657.2L1212.6 655.9L1214.7 654.6L1216.8 653.2L1218.8 651.7L1220.7 650.2L1222.7 648.6L1224.6 647.0L1226.4 645.3L1228.2 643.6L1230.0 641.8L1231.8 640.0L1233.5 638.2L1235.3 636.3L1237.0 634.4L1238.6 632.5L1240.3 630.6L1241.9 628.7L1243.5 626.7L1245.1 624.8L1246.7 622.8L1248.2 620.8L1249.8 618.8L1251.3 616.8L1252.8 614.8L1254.4 612.8L1255.9 610.8L1257.4 608.7L1258.8 606.7L1260.3 604.6L1261.7 602.5L1263.1 600.5L1264.5 598.4L1265.9 596.3L1267.2 594.1L1268.6 592.0L1269.8 589.9L1271.1 587.7L1272.3 585.5L1273.5 583.3L1274.7 581.1L1275.8 578.9L1276.9 576.6L1277.9 574.3L1278.9 572.0L1279.8 569.7L1280.8 567.4L1281.6 565.0L1282.5 562.6L1283.3 560.3L1284.0 557.8L1284.7 555.4L1285.4 553.0L1286.1 550.5L1286.7 548.1L1287.3 545.6L1287.9 543.2L1288.5 540.7L1289.0 538.2L1289.6 535.7L1290.1 533.2L1290.6 530.8L1291.1 528.3L1291.6 525.8L1292.1 523.3L1292.5 520.9L1293.0 518.4L1293.5 515.9L1293.9 513.4L1294.4 511.0L1294.9 508.5L1295.3 506.1L1295.8 503.6L1296.3 501.1L1296.7 498.7L1297.2 496.2L1297.7 493.8L1298.2 491.4L1298.7 488.9L1299.3 486.5L1299.8 484.0L1300.3 481.6L1300.9 479.2L1301.5 476.8L1302.1 474.4L1302.7 472.0L1303.3 469.6L1304.0 467.2L1304.7 464.8L1305.4 462.4L1306.1 460.0L1306.9 457.6L1307.7 455.2L1308.5 452.9L1309.4 450.5L1310.2 448.2L1311.2 445.8L1312.1 443.5L1313.1 441.2L1314.1 438.8L1315.2 436.5L1316.3 434.2L1317.4 431.9L1318.6 429.6L1319.9 427.3L1321.1 425.0L1322.5 422.8L1323.8 420.5L1325.3 418.4L1326.7 416.2L1328.3 414.1L1329.8 412.1L1331.5 410.1L1333.2 408.2L1335.0 406.4L1336.8 404.7L1338.7 403.1L1340.7 401.6L1342.7 400.3L1344.8 399.0L1347.0 397.9L1349.3 397.0L1351.6 396.2L1354.0 395.5L1356.4 395.2L1358.8 395.0L1361.1 395.2L1363.3 395.8L1365.4 396.8L1367.4 398.0L1369.2 399.6L1370.9 401.4L1372.4 403.4L1373.9 405.6L1375.2 407.9L1376.3 410.2L1377.4 412.6L1378.3 415.1L1379.2 417.6L1380.0 420.1L1380.8 422.6L1381.6 425.1L1382.4 427.5L1383.1 430.0L1383.8 432.4L1384.5 434.8L1385.2 437.2L1386.0 439.6L1386.7 441.9L1387.4 444.3L1388.1 446.7L1388.8 449.0L1389.5 451.4L1390.3 453.8L1391.0 456.1L1391.8 458.5L1392.6 460.8L1393.4 463.2L1394.2 465.6L1395.0 468.0L1395.8 470.4L1396.7 472.7L1397.5 475.1L1398.4 477.5L1399.2 479.9L1400.1 482.3L1401.0 484.7L1401.8 487.1L1402.7 489.5L1403.5 491.9L1404.4 494.3L1405.3 496.6L1406.1 499.0L1406.9 501.4L1407.8 503.8L1408.6 506.2L1409.4 508.6L1410.2 510.9L1411.0 513.3L1411.8 515.7L1412.5 518.0L1413.3 520.4L1414.0 522.8L1414.8 525.1L1415.5 527.5L1416.3 529.9L1417.0 532.2L1417.7 534.6L1418.5 537.0L1419.2 539.4L1420.0 541.7L1420.8 544.1L1421.5 546.5L1422.3 548.9L1423.1 551.3L1423.9 553.7L1424.8 556.1L1425.6 558.5L1426.4 560.9L1427.3 563.3L1428.2 565.7L1429.1 568.0L1430.0 570.4L1430.9 572.8L1431.9 575.2L1432.9 577.5L1433.9 579.9L1434.9 582.2L1435.9 584.5L1437.0 586.8L1438.1 589.1L1439.2 591.4L1440.3 593.7L1441.5 595.9L1442.7 598.1L1443.9 600.3L1445.1 602.5L1446.4 604.7L1447.7 606.8L1449.1 608.9L1450.5 611.0L1451.9 613.0L1453.3 615.1L1454.8 617.1L1456.3 619.0L1457.9 620.9L1459.4 622.8L1461.1 624.7L1462.7 626.5L1464.4 628.3L1466.2 630.1L1468.0 631.8L1469.8 633.4L1471.7 635.1L1473.6 636.7L1475.5 638.2L1477.5 639.7L1479.6 641.1L1481.7 642.5L1483.8 643.9L1486.0 645.2L1488.2 646.5L1490.5 647.7L1492.8 648.9L1495.1 650.0L1497.4 651.0L1499.8 652.1L1502.2 653.0L1504.5 654.0L1507.0 654.9L1509.4 655.7L1511.8 656.5L1514.2 657.2L1516.6 657.9L1519.1 658.6L1521.5 659.2L1523.9 659.7L1526.3 660.3L1528.7 660.7L1531.2 661.2L1533.6 661.6L1536.0 662.0L1538.5 662.4L1541.0 662.8L1543.4 663.2L1545.9 663.5L1548.4 663.9L1550.9 664.2L1553.4 664.5L1556.0 664.7L1558.5 665.0L1561.0 665.2L1563.6 665.3L1566.1 665.5L1568.6 665.6L1571.2 665.7L1573.7 665.7L1576.2 665.7L1578.7 665.7L1581.3 665.6L1583.8 665.4L1586.3 665.3L1588.8 665.0L1591.2 664.7L1593.7 664.4" fill="none" stroke="#ffd400" stroke-width="5.8" stroke-linejoin="round" stroke-dasharray="5.6 5.37"/>
<path d="M1147.8 663.8L1150.3 663.6L1152.8 663.4L1155.3 663.1L1157.8 662.9L1160.3 662.6L1162.8 662.3L1165.3 661.9L1167.8 661.6L1170.3 661.2L1172.8 660.8L1175.3 660.4L1177.7 659.9L1180.2 659.4L1182.7 658.9L1185.1 658.4L1187.6 657.8L1190.0 657.2L1192.5 656.6L1194.9 656.0L1197.3 655.3L1199.7 654.6L1202.1 653.8L1204.5 653.1L1206.9 652.2L1209.3 651.4L1211.6 650.5L1214.0 649.6L1216.3 648.7L1218.6 647.7L1220.9 646.7L1223.2 645.7L1225.5 644.6L1227.7 643.5L1230.0 642.4L1232.2 641.2L1234.4 640.0L1236.6 638.8L1238.8 637.5L1241.0 636.2L1243.1 634.9L1245.2 633.6L1247.4 632.2L1249.5 630.8L1251.6 629.4L1253.6 627.9L1255.7 626.4L1257.7 624.9L1259.7 623.4L1261.7 621.8L1263.6 620.2L1265.5 618.5L1267.4 616.9L1269.3 615.2L1271.1 613.4L1272.9 611.6L1274.6 609.8L1276.3 608.0L1278.0 606.1L1279.6 604.2L1281.1 602.3L1282.6 600.3L1284.1 598.2L1285.5 596.2L1286.9 594.1L1288.2 592.0L1289.5 589.8L1290.8 587.7L1292.0 585.5L1293.2 583.3L1294.4 581.0L1295.6 578.8L1296.7 576.5L1297.8 574.3L1299.0 572.0L1300.1 569.7L1301.2 567.4L1302.3 565.1L1303.3 562.8L1304.4 560.6L1305.6 558.3L1306.7 556.0L1307.8 553.7L1308.9 551.5L1310.0 549.2L1311.2 547.0L1312.4 544.8L1313.5 542.5L1314.7 540.3L1316.0 538.1L1317.2 536.0L1318.5 533.8L1319.7 531.7L1321.0 529.5L1322.4 527.4L1323.7 525.3L1325.1 523.3L1326.5 521.2L1328.0 519.2L1329.5 517.2L1331.0 515.3L1332.6 513.3L1334.2 511.4L1335.8 509.5L1337.5 507.7L1339.2 505.8L1340.9 504.0L1342.8 502.3L1344.6 500.5L1346.5 498.8L1348.5 497.2L1350.5 495.6L1352.5 494.0L1354.6 492.4L1356.8 491.0L1359.0 489.6L1361.2 488.3L1363.5 487.1L1365.8 486.0L1368.2 485.1L1370.5 484.3L1372.9 483.8L1375.4 483.3L1377.8 483.1L1380.2 483.2L1382.6 483.4L1385.0 483.9L1387.4 484.6L1389.8 485.5L1392.0 486.5L1394.3 487.7L1396.4 488.9L1398.5 490.2L1400.6 491.6L1402.6 493.0L1404.5 494.6L1406.4 496.2L1408.3 497.8L1410.1 499.5L1411.9 501.3L1413.6 503.1L1415.3 505.0L1417.0 506.9L1418.7 508.8L1420.3 510.8L1421.9 512.8L1423.5 514.8L1425.1 516.8L1426.7 518.8L1428.2 520.9L1429.8 522.9L1431.4 524.9L1432.9 527.0L1434.5 529.0L1436.1 531.0L1437.6 532.9L1439.2 534.9L1440.9 536.8L1442.5 538.7L1444.1 540.6L1445.7 542.5L1447.4 544.4L1449.1 546.2L1450.7 548.1L1452.4 549.9L1454.1 551.7L1455.9 553.5L1457.6 555.3L1459.3 557.0L1461.1 558.8L1462.9 560.6L1464.7 562.3L1466.5 564.1L1468.3 565.8L1470.1 567.5L1471.9 569.2L1473.8 570.9L1475.7 572.6L1477.5 574.3L1479.4 576.0L1481.3 577.6L1483.2 579.3L1485.2 580.9L1487.1 582.6L1489.0 584.2L1491.0 585.8L1492.9 587.4L1494.9 589.0L1496.8 590.6L1498.8 592.2L1500.8 593.8L1502.8 595.3L1504.8 596.9L1506.8 598.4L1508.8 599.9L1510.8 601.4L1512.8 602.9L1514.8 604.4L1516.8 605.9L1518.9 607.3L1520.9 608.8L1523.0 610.2L1525.0 611.6L1527.1 613.0L1529.2 614.4L1531.3 615.8L1533.4 617.2L1535.5 618.5L1537.6 619.8L1539.7 621.1L1541.9 622.4L1544.0 623.7L1546.2 625.0L1548.4 626.2L1550.5 627.5L1552.7 628.7L1555.0 629.9L1557.2 631.0L1559.4 632.2L1561.7 633.3L1563.9 634.4L1566.2 635.5L1568.5 636.6L1570.8 637.6L1573.1 638.7L1575.4 639.7L1577.7 640.7L1580.1 641.6L1582.4 642.6L1584.8 643.5L1587.1 644.4L1589.5 645.3L1591.9 646.2L1594.2 647.0L1596.6 647.8L1599.0 648.6L1601.4 649.4L1603.8 650.1L1606.3 650.8L1608.7 651.5L1611.1 652.2L1613.6 652.8L1616.0 653.4L1618.5 654.0L1620.9 654.6L1623.4 655.1L1625.8 655.6L1628.3 656.1L1630.8 656.6L1633.2 657.0L1635.7 657.4L1638.2 657.8L1640.7 658.1L1643.2 658.5L1645.7 658.7L1648.1 659.0L1650.6 659.3L1653.1 659.5L1655.6 659.7L1658.1 659.9L1660.6 660.1L1663.1 660.2L1665.7 660.3L1668.2 660.5L1670.7 660.6L1673.2 660.7L1675.7 660.8L1678.2 660.8L1680.7 660.9L1683.2 661.0L1685.7 661.0L1688.3 661.1L1690.8 661.1L1693.3 661.2L1695.8 661.2L1698.3 661.3L1700.9 661.3L1703.4 661.4L1705.9 661.4L1708.4 661.5L1710.9 661.5L1713.4 661.6L1715.9 661.7L1718.5 661.8L1721.0 661.9L1723.5 662.0L1726.0 662.1L1728.5 662.3L1731.0 662.4L1733.5 662.6L1736.0 662.8L1738.5 663.0L1741.0 663.2L1743.5 663.5L1746.0 663.8" fill="none" stroke="#ff00ff" stroke-width="5.8" stroke-linejoin="round" stroke-dasharray="5.6 5.37"/>
<path d="M1051.0 661.0L1053.2 659.8L1055.4 658.7L1057.7 657.6L1059.9 656.4L1062.2 655.3L1064.4 654.1L1066.6 652.8L1068.7 651.4L1070.8 650.0L1072.7 648.4L1074.6 646.7L1076.4 645.0L1078.1 643.1L1079.7 641.2L1081.2 639.2L1082.6 637.1L1083.9 635.0L1085.2 632.8L1086.3 630.6L1087.3 628.4L1088.3 626.1L1089.1 623.7L1090.0 621.3L1090.7 618.9L1091.4 616.5L1092.1 614.1L1092.7 611.6L1093.3 609.1L1093.9 606.7L1094.4 604.2L1095.0 601.7L1095.5 599.2L1096.0 596.7L1096.6 594.3L1097.1 591.8L1097.6 589.4L1098.1 586.9L1098.7 584.4L1099.2 582.0L1099.7 579.5L1100.2 577.1L1100.7 574.6L1101.2 572.2L1101.7 569.7L1102.2 567.3L1102.7 564.8L1103.2 562.4L1103.6 559.9L1104.1 557.5L1104.6 555.0L1105.0 552.6L1105.5 550.1L1105.9 547.6L1106.4 545.2L1106.8 542.7L1107.3 540.2L1107.7 537.8L1108.1 535.3L1108.5 532.8L1108.9 530.3L1109.4 527.8L1109.8 525.3L1110.2 522.9L1110.6 520.4L1111.0 517.9L1111.4 515.4L1111.8 512.9L1112.3 510.4L1112.7 507.9L1113.1 505.4L1113.5 502.9L1113.9 500.5L1114.3 498.0L1114.8 495.5L1115.2 493.0L1115.6 490.5L1116.0 488.0L1116.5 485.5L1116.9 483.0L1117.4 480.6L1117.8 478.1L1118.3 475.6L1118.8 473.1L1119.2 470.7L1119.7 468.2L1120.2 465.7L1120.7 463.2L1121.2 460.8L1121.8 458.3L1122.3 455.9L1122.8 453.4L1123.4 451.0L1123.9 448.5L1124.5 446.1L1125.1 443.6L1125.7 441.2L1126.3 438.8L1126.9 436.4L1127.5 433.9L1128.2 431.5L1128.8 429.1L1129.5 426.7L1130.2 424.3L1130.9 421.9L1131.6 419.5L1132.4 417.2L1133.1 414.8L1133.9 412.4L1134.6 410.0L1135.4 407.7L1136.2 405.3L1137.0 402.9L1137.8 400.6L1138.6 398.2L1139.4 395.8L1140.3 393.5L1141.1 391.1L1141.9 388.7L1142.8 386.3L1143.6 384.0L1144.4 381.6L1145.3 379.2L1146.1 376.8L1147.0 374.4L1147.8 372.0L1148.6 369.6L1149.5 367.2L1150.3 364.8L1151.1 362.3L1152.0 359.9L1152.8 357.5L1153.7 355.1L1154.7 352.7L1155.7 350.4L1156.7 348.1L1157.9 345.9L1159.1 343.7L1160.4 341.6L1161.9 339.6L1163.5 337.7L1165.2 336.1L1167.0 335.1L1168.8 335.1L1170.8 336.0L1172.6 337.6L1174.2 339.6L1175.6 341.8L1176.8 344.2L1177.9 346.6L1178.8 349.1L1179.7 351.6L1180.7 354.0L1181.6 356.4L1182.6 358.8L1183.6 361.2L1184.6 363.5L1185.6 365.8L1186.6 368.1L1187.6 370.4L1188.6 372.7L1189.6 374.9L1190.6 377.2L1191.6 379.5L1192.6 381.7L1193.6 384.0L1194.6 386.3L1195.6 388.6L1196.5 390.9L1197.5 393.2L1198.4 395.5L1199.3 397.8L1200.2 400.1L1201.1 402.5L1202.0 404.8L1202.9 407.2L1203.8 409.5L1204.6 411.9L1205.4 414.3L1206.2 416.7L1207.1 419.1L1207.8 421.5L1208.6 423.9L1209.4 426.3L1210.1 428.7L1210.8 431.1L1211.5 433.5L1212.2 435.9L1212.9 438.4L1213.5 440.8L1214.2 443.3L1214.8 445.7L1215.4 448.2L1215.9 450.6L1216.5 453.1L1217.0 455.5L1217.6 458.0L1218.0 460.5L1218.5 463.0L1219.0 465.4L1219.4 467.9L1219.9 470.4L1220.3 472.9L1220.7 475.3L1221.1 477.8L1221.5 480.3L1221.9 482.8L1222.3 485.3L1222.7 487.8L1223.2 490.2L1223.6 492.7L1224.0 495.2L1224.4 497.7L1224.9 500.1L1225.3 502.6L1225.8 505.1L1226.3 507.5L1226.8 510.0L1227.3 512.4L1227.8 514.9L1228.4 517.3L1229.0 519.8L1229.6 522.2L1230.3 524.6L1230.9 527.0L1231.6 529.4L1232.3 531.9L1233.1 534.3L1233.8 536.6L1234.6 539.0L1235.4 541.4L1236.3 543.8L1237.1 546.2L1238.0 548.5L1238.8 550.9L1239.7 553.2L1240.7 555.6L1241.6 557.9L1242.5 560.3L1243.5 562.6L1244.5 564.9L1245.5 567.2L1246.5 569.5L1247.5 571.8L1248.5 574.1L1249.5 576.4L1250.6 578.7L1251.6 581.0L1252.7 583.3L1253.7 585.5L1254.8 587.8L1255.9 590.0L1257.0 592.3L1258.1 594.5L1259.2 596.8L1260.3 599.0L1261.4 601.2L1262.5 603.5L1263.6 605.7L1264.7 607.9L1265.8 610.2L1266.9 612.4L1268.1 614.7L1269.2 616.9L1270.3 619.2L1271.4 621.4L1272.6 623.7L1273.7 626.0L1274.8 628.3L1275.9 630.6L1277.1 632.9L1278.2 635.2L1279.4 637.5L1280.5 639.7L1281.8 642.0L1283.0 644.2L1284.4 646.3L1285.7 648.4L1287.2 650.4L1288.7 652.3L1290.4 654.1L1292.1 655.8L1294.0 657.3L1295.9 658.7L1298.0 660.0L1300.3 661.1L1302.6 662.0L1305.1 662.8L1307.6 663.5L1310.2 664.1L1312.9 664.5L1315.5 664.9L1318.1 665.2L1320.7 665.5L1323.3 665.7L1325.8 665.9L1328.3 666.0L1330.7 666.1L1333.2 666.2L1335.6 666.2L1338.0 666.2L1340.4 666.2L1342.9 666.1L1345.3 666.0L1347.7 665.9L1350.2 665.8L1352.7 665.7L1355.2 665.5L1357.7 665.3L1360.3 665.2L1362.9 665.0L1365.6 664.8" fill="none" stroke="#0000ff" stroke-width="5.8" stroke-linejoin="round"/>
<path d="M1161.9 654.8L1162.7 652.4L1163.4 650.0L1164.2 647.6L1164.8 645.2L1165.5 642.8L1166.1 640.4L1166.8 638.0L1167.3 635.5L1167.9 633.1L1168.5 630.6L1169.0 628.2L1169.5 625.7L1170.0 623.3L1170.5 620.8L1170.9 618.4L1171.3 615.9L1171.7 613.4L1172.1 611.0L1172.5 608.5L1172.9 606.0L1173.2 603.5L1173.6 601.1L1173.9 598.6L1174.2 596.1L1174.5 593.6L1174.8 591.1L1175.1 588.6L1175.4 586.1L1175.6 583.6L1175.9 581.1L1176.1 578.6L1176.3 576.1L1176.6 573.6L1176.8 571.1L1177.0 568.6L1177.2 566.1L1177.4 563.6L1177.6 561.1L1177.8 558.6L1178.0 556.1L1178.1 553.6L1178.3 551.1L1178.5 548.6L1178.7 546.1L1178.9 543.6L1179.1 541.1L1179.3 538.6L1179.4 536.1L1179.6 533.6L1179.8 531.1L1180.0 528.6L1180.2 526.1L1180.4 523.6L1180.6 521.1L1180.7 518.6L1180.9 516.1L1181.1 513.6L1181.3 511.1L1181.5 508.6L1181.7 506.1L1181.9 503.6L1182.1 501.1L1182.2 498.6L1182.4 496.1L1182.6 493.6L1182.8 491.1L1183.0 488.6L1183.2 486.1L1183.4 483.6L1183.5 481.1L1183.7 478.6L1183.9 476.1L1184.1 473.6L1184.3 471.1L1184.5 468.6L1184.7 466.1L1184.8 463.6L1185.0 461.1L1185.2 458.6L1185.4 456.1L1185.6 453.6L1185.7 451.1L1185.9 448.6L1186.1 446.2L1186.3 443.7L1186.5 441.2L1186.6 438.7L1186.8 436.2L1187.0 433.7L1187.2 431.2L1187.3 428.7L1187.5 426.2L1187.7 423.7L1187.9 421.2L1188.0 418.7L1188.2 416.1L1188.4 413.6L1188.6 411.1L1188.7 408.6L1188.9 406.1L1189.1 403.6L1189.2 401.1L1189.4 398.6L1189.6 396.1L1189.8 393.6L1189.9 391.1L1190.1 388.6L1190.3 386.1L1190.4 383.6L1190.6 381.1L1190.8 378.6L1191.0 376.1L1191.1 373.6L1191.3 371.1L1191.5 368.6L1191.6 366.1L1191.8 363.6L1192.0 361.1L1192.2 358.6L1192.3 356.0L1192.5 353.5L1192.7 351.0L1192.8 348.5L1193.0 346.0L1193.2 343.5L1193.4 341.0L1193.5 338.5L1193.7 336.0L1193.9 333.5L1194.1 331.0L1194.3 328.5L1194.4 326.0L1194.6 323.5L1194.8 321.0L1195.0 318.5L1195.2 316.0L1195.4 313.5L1195.5 311.0L1195.7 308.5L1195.9 306.0L1196.1 303.5L1196.3 301.0L1196.5 298.5L1196.7 296.0L1196.9 293.5L1197.1 291.0L1197.3 288.5L1197.5 286.0L1197.7 283.5L1197.9 281.0L1198.1 278.5L1198.3 276.0L1198.5 273.5L1198.7 271.0L1198.9 268.5L1199.1 266.0L1199.3 263.5L1199.5 261.0L1199.7 258.5L1200.0 256.1L1200.2 253.6L1200.4 251.1L1200.6 248.6L1200.8 246.1L1201.1 243.6L1201.3 241.1L1201.5 238.6L1201.8 236.1L1202.0 233.7L1202.2 231.2L1202.5 228.7L1202.7 226.2L1203.0 223.7L1203.2 221.2L1203.5 218.8L1203.7 216.3L1204.0 213.8L1204.2 211.3L1204.5 208.8L1204.8 206.3L1205.1 203.8L1205.4 201.3L1205.7 198.8L1206.0 196.3L1206.3 193.8L1206.6 191.3L1206.9 188.8L1207.3 186.2L1207.7 183.7L1208.0 181.2L1208.4 178.6L1208.8 176.0L1209.3 173.5L1209.8 171.0L1210.4 168.6L1211.2 166.2L1212.1 164.0L1213.2 161.9L1214.5 160.0L1215.9 158.8L1217.3 159.2L1218.6 161.0L1219.8 163.5L1220.9 166.3L1221.9 169.0L1222.7 171.5L1223.4 174.0L1224.1 176.4L1224.7 178.7L1225.3 181.1L1225.8 183.5L1226.4 185.9L1226.9 188.3L1227.3 190.7L1227.8 193.1L1228.2 195.6L1228.6 198.0L1229.0 200.5L1229.4 203.0L1229.8 205.4L1230.1 207.9L1230.5 210.4L1230.8 212.9L1231.2 215.4L1231.5 217.9L1231.8 220.4L1232.1 222.9L1232.5 225.4L1232.8 227.9L1233.1 230.4L1233.4 232.9L1233.7 235.4L1234.1 237.8L1234.4 240.3L1234.7 242.8L1235.0 245.3L1235.3 247.8L1235.6 250.3L1235.9 252.8L1236.2 255.3L1236.5 257.8L1236.8 260.3L1237.1 262.8L1237.4 265.2L1237.7 267.7L1238.0 270.2L1238.3 272.7L1238.6 275.2L1238.9 277.7L1239.2 280.2L1239.5 282.7L1239.8 285.2L1240.1 287.6L1240.4 290.1L1240.7 292.6L1241.0 295.1L1241.2 297.6L1241.5 300.1L1241.8 302.6L1242.1 305.1L1242.4 307.5L1242.7 310.0L1243.0 312.5L1243.3 315.0L1243.6 317.5L1243.9 320.0L1244.2 322.5L1244.4 324.9L1244.7 327.4L1245.0 329.9L1245.3 332.4L1245.6 334.9L1245.9 337.4L1246.2 339.9L1246.5 342.4L1246.8 344.8L1247.1 347.3L1247.4 349.8L1247.7 352.3L1248.0 354.8L1248.3 357.3L1248.6 359.8L1248.9 362.2L1249.2 364.7L1249.6 367.2L1249.9 369.7L1250.2 372.2L1250.5 374.7L1250.8 377.2L1251.1 379.6L1251.5 382.1L1251.8 384.6L1252.1 387.1L1252.4 389.6L1252.8 392.1L1253.1 394.6L1253.4 397.0L1253.8 399.5L1254.1 402.0L1254.4 404.5L1254.8 407.0L1255.1 409.5L1255.5 412.0L1255.8 414.5L1256.2 416.9L1256.5 419.4L1256.9 421.9L1257.2 424.4L1257.6 426.9L1258.0 429.4L1258.3 431.9L1258.7 434.3L1259.1 436.8L1259.4 439.3L1259.8 441.8L1260.2 444.3L1260.5 446.8L1260.9 449.2L1261.3 451.7L1261.6 454.2L1262.0 456.7L1262.4 459.2L1262.8 461.6L1263.2 464.1L1263.5 466.6L1263.9 469.1L1264.3 471.5L1264.7 474.0L1265.1 476.5L1265.4 479.0L1265.8 481.4L1266.2 483.9L1266.6 486.4L1267.0 488.8L1267.4 491.3L1267.8 493.8L1268.1 496.2L1268.5 498.7L1268.9 501.2L1269.3 503.6L1269.7 506.1L1270.1 508.5L1270.6 511.0L1271.0 513.4L1271.5 515.9L1272.0 518.3L1272.5 520.8L1273.1 523.2L1273.6 525.6L1274.3 528.1L1274.9 530.5L1275.6 532.9L1276.4 535.3L1277.2 537.7L1278.0 540.1L1278.9 542.5L1279.8 544.9L1280.8 547.3L1281.7 549.7L1282.7 552.0L1283.7 554.4L1284.6 556.8L1285.6 559.1L1286.5 561.4L1287.4 563.8L1288.3 566.1L1289.1 568.4L1289.9 570.7L1290.7 573.1L1291.5 575.4L1292.2 577.7L1293.0 580.0L1293.7 582.3L1294.4 584.6L1295.1 587.0L1295.8 589.3L1296.5 591.7L1297.2 594.0L1297.9 596.4L1298.6 598.8L1299.3 601.2L1300.0 603.6L1300.7 606.0L1301.4 608.4L1302.1 610.9L1302.9 613.3L1303.6 615.8L1304.4 618.4L1305.2 620.9L1305.9 623.5L1306.8 626.0L1307.6 628.7L1308.5 631.3L1309.4 633.9L1310.4 636.3L1311.6 638.5L1312.9 640.3L1314.5 641.6L1316.3 642.3L1318.4 642.3L1320.9 641.5L1323.6 640.3L1326.2 639.3L1328.6 638.9L1330.9 639.1L1332.9 639.8L1334.9 640.9L1336.7 642.4L1338.5 644.1L1340.2 645.9L1342.0 647.9L1343.8 649.8L1345.6 651.6L1347.5 653.2L1349.6 654.7L1351.7 655.9L1353.9 657.0L1356.1 658.0L1358.5 658.7L1360.9 659.4L1363.3 660.0L1365.8 660.4L1368.3 660.8L1370.9 661.0L1373.5 661.2L1376.1 661.3L1378.7 661.4L1381.3 661.5L1384.0 661.5L1386.6 661.5L1389.2 661.6L1391.8 661.6L1394.3 661.7L1396.9 661.8L1399.4 661.9L1401.8 662.1L1404.2 662.4L1406.5 662.8L1408.8 663.2L1411.0 663.8" fill="none" stroke="#ff00ff" stroke-width="5.8" stroke-linejoin="round"/>
<path d="M1133.0 661.4L1135.3 660.1L1137.4 658.7L1139.5 657.2L1141.6 655.6L1143.5 654.0L1145.4 652.4L1147.2 650.7L1149.0 648.9L1150.6 647.1L1152.3 645.2L1153.8 643.3L1155.3 641.4L1156.8 639.4L1158.2 637.4L1159.5 635.3L1160.8 633.2L1162.0 631.0L1163.2 628.9L1164.3 626.6L1165.4 624.4L1166.5 622.1L1167.5 619.8L1168.4 617.5L1169.4 615.2L1170.3 612.8L1171.1 610.4L1171.9 608.0L1172.7 605.6L1173.5 603.2L1174.2 600.7L1174.9 598.3L1175.6 595.8L1176.2 593.4L1176.9 590.9L1177.5 588.4L1178.1 585.9L1178.7 583.5L1179.2 581.0L1179.8 578.5L1180.3 576.0L1180.8 573.6L1181.3 571.1L1181.8 568.6L1182.3 566.1L1182.8 563.7L1183.2 561.2L1183.7 558.7L1184.1 556.2L1184.5 553.8L1184.9 551.3L1185.3 548.8L1185.7 546.3L1186.1 543.9L1186.5 541.4L1186.9 538.9L1187.3 536.5L1187.7 534.0L1188.0 531.5L1188.4 529.0L1188.8 526.6L1189.1 524.1L1189.5 521.6L1189.9 519.1L1190.2 516.7L1190.6 514.2L1190.9 511.7L1191.3 509.3L1191.7 506.8L1192.0 504.3L1192.4 501.8L1192.8 499.4L1193.2 496.9L1193.6 494.4L1194.0 492.0L1194.4 489.5L1194.8 487.0L1195.2 484.5L1195.6 482.1L1196.0 479.6L1196.5 477.1L1196.9 474.7L1197.4 472.2L1197.9 469.7L1198.3 467.2L1198.8 464.8L1199.3 462.3L1199.8 459.8L1200.4 457.4L1200.9 454.9L1201.4 452.5L1202.0 450.0L1202.5 447.5L1203.1 445.1L1203.7 442.6L1204.2 440.2L1204.8 437.7L1205.4 435.3L1206.0 432.8L1206.6 430.4L1207.3 427.9L1207.9 425.5L1208.6 423.0L1209.2 420.6L1209.9 418.2L1210.5 415.7L1211.2 413.3L1211.9 410.9L1212.6 408.5L1213.3 406.1L1214.0 403.7L1214.7 401.2L1215.5 398.8L1216.2 396.4L1217.0 394.1L1217.7 391.7L1218.5 389.3L1219.3 386.9L1220.0 384.5L1220.8 382.1L1221.6 379.8L1222.4 377.4L1223.3 375.1L1224.1 372.7L1224.9 370.4L1225.8 368.0L1226.6 365.7L1227.5 363.4L1228.4 361.0L1229.3 358.6L1230.3 356.2L1231.4 353.8L1232.5 351.3L1233.8 348.8L1235.2 346.4L1236.7 344.4L1238.5 342.7L1240.4 341.6L1242.5 341.3L1244.7 341.6L1246.9 342.5L1248.9 343.8L1250.7 345.4L1252.2 347.4L1253.7 349.5L1255.0 351.7L1256.3 354.0L1257.5 356.3L1258.7 358.6L1259.9 360.9L1261.0 363.2L1262.1 365.5L1263.1 367.8L1264.1 370.2L1265.0 372.5L1266.0 374.9L1266.9 377.2L1267.7 379.6L1268.6 382.0L1269.4 384.4L1270.2 386.8L1270.9 389.2L1271.7 391.6L1272.4 394.0L1273.1 396.4L1273.8 398.8L1274.4 401.2L1275.1 403.7L1275.7 406.1L1276.4 408.5L1277.0 411.0L1277.6 413.4L1278.2 415.8L1278.8 418.3L1279.4 420.7L1280.0 423.1L1280.6 425.6L1281.2 428.0L1281.8 430.4L1282.4 432.9L1283.0 435.3L1283.6 437.7L1284.3 440.1L1284.9 442.6L1285.6 445.0L1286.2 447.4L1286.9 449.8L1287.6 452.2L1288.3 454.6L1289.0 457.0L1289.7 459.4L1290.4 461.8L1291.2 464.2L1291.9 466.6L1292.7 469.0L1293.5 471.4L1294.2 473.8L1295.0 476.2L1295.8 478.5L1296.6 480.9L1297.4 483.3L1298.2 485.7L1299.1 488.0L1299.9 490.4L1300.7 492.8L1301.5 495.2L1302.4 497.5L1303.2 499.9L1304.1 502.3L1304.9 504.6L1305.7 507.0L1306.6 509.4L1307.4 511.7L1308.3 514.1L1309.1 516.5L1310.0 518.9L1310.8 521.2L1311.7 523.6L1312.5 526.0L1313.4 528.3L1314.2 530.7L1315.0 533.1L1315.9 535.5L1316.7 537.8L1317.5 540.2L1318.4 542.6L1319.2 545.0L1320.0 547.4L1320.8 549.8L1321.6 552.1L1322.4 554.5L1323.2 556.9L1324.1 559.3L1324.9 561.7L1325.7 564.1L1326.5 566.4L1327.3 568.8L1328.2 571.2L1329.0 573.6L1329.8 575.9L1330.7 578.3L1331.6 580.7L1332.4 583.0L1333.3 585.4L1334.2 587.7L1335.1 590.0L1336.1 592.4L1337.0 594.7L1338.0 597.0L1338.9 599.3L1339.9 601.6L1340.9 603.9L1341.9 606.2L1343.0 608.5L1344.1 610.7L1345.2 613.0L1346.3 615.2L1347.4 617.5L1348.6 619.7L1349.7 621.9L1351.0 624.1L1352.2 626.3L1353.5 628.4L1354.8 630.6L1356.1 632.7L1357.4 634.9L1358.8 637.0L1360.3 639.1L1361.7 641.2L1363.2 643.2L1364.7 645.2L1366.3 647.2L1368.0 649.1L1369.6 651.0L1371.4 652.7L1373.2 654.4L1375.1 656.0L1377.0 657.5L1379.0 658.8L1381.1 660.1L1383.3 661.2L1385.6 662.2L1387.9 663.0L1390.4 663.6L1392.9 664.1L1395.6 664.3L1398.3 664.4L1401.2 664.3" fill="none" stroke="#993300" stroke-width="5.8" stroke-linejoin="round"/>
<path d="M1198.0 661.5L1200.2 660.1L1202.3 658.5L1204.3 656.9L1206.2 655.3L1208.1 653.6L1209.8 651.9L1211.6 650.1L1213.2 648.2L1214.8 646.3L1216.4 644.4L1217.8 642.4L1219.3 640.4L1220.6 638.4L1221.9 636.3L1223.2 634.1L1224.4 632.0L1225.6 629.8L1226.7 627.6L1227.8 625.3L1228.9 623.1L1229.9 620.8L1230.9 618.5L1231.8 616.1L1232.8 613.8L1233.7 611.4L1234.5 609.0L1235.4 606.6L1236.2 604.2L1237.1 601.8L1237.9 599.4L1238.7 596.9L1239.5 594.5L1240.2 592.1L1241.0 589.6L1241.8 587.2L1242.5 584.8L1243.3 582.3L1244.1 579.9L1244.9 577.5L1245.6 575.1L1246.4 572.6L1247.2 570.2L1247.9 567.8L1248.7 565.4L1249.5 563.0L1250.2 560.6L1251.0 558.2L1251.7 555.8L1252.5 553.4L1253.3 551.0L1254.0 548.6L1254.8 546.2L1255.5 543.8L1256.3 541.4L1257.1 539.0L1257.8 536.7L1258.6 534.3L1259.3 531.9L1260.1 529.5L1260.8 527.1L1261.5 524.7L1262.3 522.3L1263.0 519.9L1263.8 517.5L1264.5 515.1L1265.2 512.7L1266.0 510.3L1266.7 507.9L1267.4 505.5L1268.1 503.1L1268.9 500.7L1269.6 498.3L1270.3 495.9L1271.0 493.5L1271.7 491.1L1272.4 488.7L1273.1 486.3L1273.8 483.9L1274.5 481.5L1275.2 479.0L1275.9 476.6L1276.7 474.2L1277.4 471.8L1278.1 469.4L1278.9 467.0L1279.6 464.6L1280.4 462.2L1281.2 459.8L1282.0 457.4L1282.8 455.0L1283.7 452.6L1284.5 450.2L1285.4 447.8L1286.3 445.5L1287.3 443.1L1288.3 440.8L1289.3 438.5L1290.3 436.2L1291.4 433.8L1292.5 431.6L1293.6 429.3L1294.8 427.1L1296.0 424.8L1297.3 422.7L1298.7 420.5L1300.1 418.4L1301.5 416.3L1303.0 414.3L1304.6 412.4L1306.2 410.4L1308.0 408.6L1309.7 406.8L1311.6 405.1L1313.6 403.6L1315.8 402.4L1318.2 401.7L1320.7 401.5L1323.3 401.7L1325.8 402.3L1328.2 403.3L1330.2 404.7L1332.1 406.4L1333.7 408.3L1335.2 410.3L1336.7 412.4L1338.1 414.5L1339.5 416.6L1340.9 418.7L1342.3 420.8L1343.6 423.0L1345.0 425.1L1346.3 427.3L1347.6 429.4L1348.9 431.6L1350.2 433.8L1351.5 436.0L1352.7 438.2L1353.9 440.4L1355.2 442.6L1356.4 444.8L1357.6 447.0L1358.8 449.2L1359.9 451.5L1361.1 453.7L1362.3 455.9L1363.4 458.2L1364.6 460.4L1365.7 462.7L1366.8 464.9L1367.9 467.2L1369.0 469.4L1370.1 471.7L1371.2 474.0L1372.3 476.3L1373.4 478.5L1374.5 480.8L1375.5 483.1L1376.6 485.4L1377.7 487.7L1378.7 489.9L1379.8 492.2L1380.9 494.5L1381.9 496.8L1383.0 499.1L1384.0 501.4L1385.1 503.7L1386.1 506.0L1387.2 508.2L1388.3 510.5L1389.3 512.8L1390.4 515.1L1391.4 517.4L1392.5 519.7L1393.6 521.9L1394.6 524.2L1395.7 526.5L1396.8 528.8L1397.9 531.0L1399.0 533.3L1400.1 535.5L1401.2 537.8L1402.3 540.1L1403.4 542.3L1404.6 544.6L1405.7 546.8L1406.9 549.0L1408.0 551.3L1409.2 553.5L1410.3 555.7L1411.5 558.0L1412.7 560.2L1413.8 562.4L1415.0 564.6L1416.2 566.9L1417.4 569.1L1418.5 571.3L1419.7 573.5L1420.9 575.8L1422.1 578.0L1423.3 580.2L1424.5 582.5L1425.6 584.7L1426.8 586.9L1428.0 589.2L1429.2 591.4L1430.3 593.7L1431.5 595.9L1432.7 598.2L1433.8 600.4L1435.0 602.7L1436.2 604.9L1437.4 607.1L1438.6 609.4L1439.8 611.6L1441.1 613.8L1442.3 615.9L1443.6 618.1L1445.0 620.2L1446.3 622.3L1447.7 624.4L1449.2 626.4L1450.7 628.5L1452.2 630.4L1453.8 632.4L1455.4 634.3L1457.1 636.2L1458.8 638.0L1460.6 639.7L1462.5 641.5L1464.3 643.2L1466.3 644.8L1468.2 646.4L1470.2 647.9L1472.3 649.3L1474.4 650.7L1476.5 652.1L1478.7 653.4L1480.9 654.6L1483.2 655.7L1485.5 656.8L1487.8 657.8L1490.1 658.8L1492.5 659.6L1494.9 660.4L1497.4 661.1L1499.8 661.8" fill="none" stroke="#00ff00" stroke-width="5.8" stroke-linejoin="round"/>
<circle cx="1165.4" cy="336.3" r="8.4" fill="#0000ff"/>
<circle cx="1204.8" cy="207.8" r="8.4" fill="#ff00ff"/>
<circle cx="1240.7" cy="340.8" r="8.4" fill="#993300"/>
<circle cx="1317.0" cy="402.0" r="8.4" fill="#00ff00"/>
<path d="M1265.8 668.5 V63.5" stroke="#808080" stroke-width="2" stroke-dasharray="27.2 16.4" fill="none"/>
<path d="M1318.2 666.9 V63.5" stroke="#000" stroke-width="2.2" fill="none"/>
<rect x="1015.9" y="63.5" width="755.6" height="603.4" fill="none" stroke="#262626" stroke-width="1.8"/>
<rect x="1349.9" y="90.7" width="395.2" height="243.8" fill="#fff" stroke="#262626" stroke-width="1.8"/>
<path d="M1360.8 115.1 H1443.0" stroke="#0000ff" stroke-width="5.8" fill="none"/>
<circle cx="1401.9" cy="115.1" r="8.4" fill="#0000ff"/>
<path d="M1360.8 154.2 H1443.0" stroke="#ffd400" stroke-width="5.8" fill="none" stroke-dasharray="5.6 5.37"/>
<path d="M1360.8 193.3 H1443.0" stroke="#ff00ff" stroke-width="5.8" fill="none"/>
<circle cx="1401.9" cy="193.3" r="8.4" fill="#ff00ff"/>
<path d="M1360.8 232.4 H1443.0" stroke="#ff00ff" stroke-width="5.8" fill="none" stroke-dasharray="5.6 5.37"/>
<path d="M1360.8 271.6 H1443.0" stroke="#993300" stroke-width="5.8" fill="none"/>
<circle cx="1401.9" cy="271.6" r="8.4" fill="#993300"/>
<path d="M1360.8 310.8 H1443.0" stroke="#00ff00" stroke-width="5.8" fill="none"/>
<circle cx="1401.9" cy="310.8" r="8.4" fill="#00ff00"/>
<text id="ttL" class="tt" x="77.18" y="35.00" textLength="684.84" lengthAdjust="spacingAndGlyphs">a. Correlation with 20C Observations</text>
<text id="ttR" class="tt" x="1001.01" y="35.00" textLength="728.92" lengthAdjust="spacingAndGlyphs">b. Scaled RMSE with 20C Observations</text>
<text id="lx0" class="tk" x="67.47" y="705.80" textLength="55.27" lengthAdjust="spacingAndGlyphs">-0.4</text>
<text id="lx1" class="tk" x="218.36" y="705.80" textLength="56.32" lengthAdjust="spacingAndGlyphs">-0.2</text>
<text id="lx2" class="tk" x="389.39" y="705.80" textLength="18.98" lengthAdjust="spacingAndGlyphs">0</text>
<text id="lx3" class="tk" x="527.16" y="705.80" textLength="45.85" lengthAdjust="spacingAndGlyphs">0.2</text>
<text id="lx4" class="tk" x="678.55" y="705.80" textLength="45.08" lengthAdjust="spacingAndGlyphs">0.4</text>
<text id="lx5" class="tk" x="829.81" y="705.80" textLength="45.56" lengthAdjust="spacingAndGlyphs">0.6</text>
<text id="ly0" class="tk" x="65.09" y="673.60" textLength="18.92" lengthAdjust="spacingAndGlyphs">0</text>
<text id="ly1" class="tk" x="64.87" y="553.98" textLength="19.53" lengthAdjust="spacingAndGlyphs">2</text>
<text id="ly2" class="tk" x="65.82" y="434.36" textLength="17.72" lengthAdjust="spacingAndGlyphs">4</text>
<text id="ly3" class="tk" x="64.62" y="314.74" textLength="19.53" lengthAdjust="spacingAndGlyphs">6</text>
<text id="ly4" class="tk" x="64.92" y="195.12" textLength="19.27" lengthAdjust="spacingAndGlyphs">8</text>
<text id="ly5" class="tk" x="47.47" y="75.50" textLength="36.42" lengthAdjust="spacingAndGlyphs">10</text>
<text id="xlL" class="lb" x="386.20" y="751.60" textLength="176.40" lengthAdjust="spacingAndGlyphs">Correlation</text>
<text id="ylL" class="lb" transform="translate(31.30 421.96) rotate(-90)" textLength="118.35" lengthAdjust="spacingAndGlyphs">Density</text>
<text id="rx0" class="tk" x="1096.34" y="711.60" textLength="63.99" lengthAdjust="spacingAndGlyphs">0.95</text>
<text id="rx1" class="tk" x="1309.70" y="711.60" textLength="11.40" lengthAdjust="spacingAndGlyphs">1</text>
<text id="rx2" class="tk" x="1474.44" y="711.60" textLength="62.98" lengthAdjust="spacingAndGlyphs">1.05</text>
<text id="rx3" class="tk" x="1673.36" y="711.60" textLength="41.35" lengthAdjust="spacingAndGlyphs">1.1</text>
<text id="ry0" class="tk" x="983.57" y="678.90" textLength="18.74" lengthAdjust="spacingAndGlyphs">0</text>
<text id="ry1" class="tk" x="964.54" y="578.33" textLength="37.82" lengthAdjust="spacingAndGlyphs">10</text>
<text id="ry2" class="tk" x="965.48" y="477.77" textLength="36.96" lengthAdjust="spacingAndGlyphs">20</text>
<text id="ry3" class="tk" x="965.52" y="377.20" textLength="36.86" lengthAdjust="spacingAndGlyphs">30</text>
<text id="ry4" class="tk" x="966.22" y="276.63" textLength="36.14" lengthAdjust="spacingAndGlyphs">40</text>
<text id="ry5" class="tk" x="965.46" y="176.07" textLength="36.82" lengthAdjust="spacingAndGlyphs">50</text>
<text id="ry6" class="tk" x="965.30" y="75.50" textLength="37.24" lengthAdjust="spacingAndGlyphs">60</text>
<text id="xlR" class="lb" x="1084.85" y="757.50" textLength="622.74" lengthAdjust="spacingAndGlyphs">RMSE as fraction of observed variance</text>
<text id="ylR" class="lb" transform="translate(949.70 424.97) rotate(-90)" textLength="118.56" lengthAdjust="spacingAndGlyphs">Density</text>
<text id="gl0" class="lg" x="226.10" y="125.90" textLength="141.69" lengthAdjust="spacingAndGlyphs">ALL = 0.36</text>
<text id="gl1" class="lg" x="224.13" y="165.20" textLength="269.89" lengthAdjust="spacingAndGlyphs">piC (all experiments)</text>
<text id="gl2" class="lg" x="226.11" y="204.50" textLength="128.78" lengthAdjust="spacingAndGlyphs">AA = 0.26</text>
<text id="gl3" class="lg" x="223.67" y="243.80" textLength="150.54" lengthAdjust="spacingAndGlyphs">NAT = 0.23</text>
<text id="gl4" class="lg" x="224.71" y="283.10" textLength="158.70" lengthAdjust="spacingAndGlyphs">GHG = 0.06</text>
<text id="gr0" class="lg" x="1451.59" y="125.80" textLength="142.50" lengthAdjust="spacingAndGlyphs">ALL = 0.96</text>
<text id="gr1" class="lg" x="1450.12" y="164.90" textLength="282.95" lengthAdjust="spacingAndGlyphs">piC (ALL, NAT, GHG)</text>
<text id="gr2" class="lg" x="1451.59" y="204.00" textLength="128.64" lengthAdjust="spacingAndGlyphs">AA = 0.97</text>
<text id="gr3" class="lg" x="1449.84" y="243.20" textLength="112.07" lengthAdjust="spacingAndGlyphs">piC (AA)</text>
<text id="gr4" class="lg" x="1449.48" y="282.50" textLength="151.03" lengthAdjust="spacingAndGlyphs">NAT = 0.98</text>
<text id="gr5" class="lg" x="1450.56" y="321.80" textLength="157.75" lengthAdjust="spacingAndGlyphs">GHG = 1.00</text>
</svg></body></html>
